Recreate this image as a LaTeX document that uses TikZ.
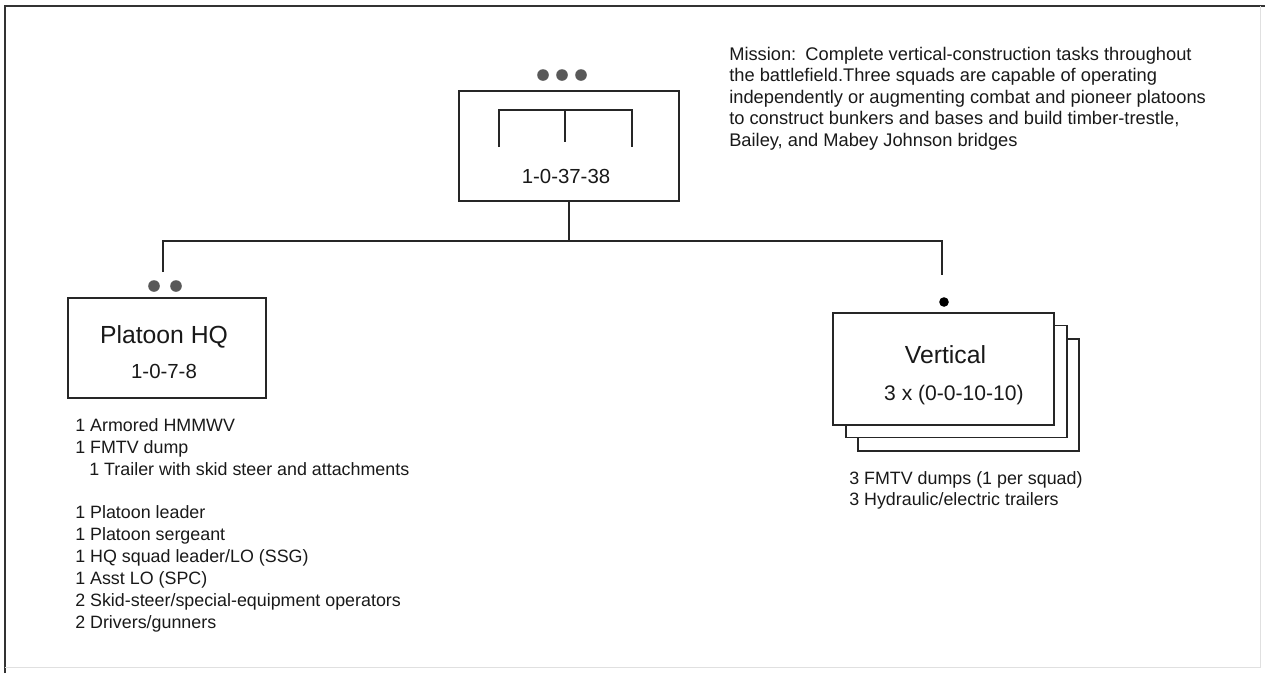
\documentclass[tikz,border=0pt]{standalone}
\usepackage{fontspec}
\setmainfont{Liberation Sans}
\usetikzlibrary{positioning}
\tikzstyle{unitbox} = [rectangle, draw=black!85, line width=1.1pt, fill=white, minimum width=5.525cm,
minimum height=2.8cm, inner sep=0pt]
\tikzstyle{title} = [align=center, inner sep=0pt, text=black!90, font=\fontsize{17.6}{20}\selectfont]
\tikzstyle{line} = [line width=1.1pt, black!85]
\tikzstyle{gdot} = [circle, fill=black!65, inner sep=0pt, minimum size=0.29cm]
\tikzstyle{bdot} = [circle, fill=black, inner sep=0pt, minimum size=0.24cm]
\tikzstyle{notes} = [anchor=base west, align=left, inner sep=0pt, text=black!90,
font=\fontsize{12.7}{15.6}\selectfont]

\begin{document}
\begin{tikzpicture}[x=0.025cm, y=-0.025cm]
        \useasboundingbox (0,0) rectangle (1265,673);
        % frame
        \draw[line width=1.4pt, black!80] (5,673) -- (5,6) -- (1265,6);
        \draw[black!12] (1260,6) -- (1260,667) -- (5,667);

        \node[unitbox, minimum width=5.5cm, minimum height=2.75cm] (company) at (569,146) {};
        \node[anchor=base, inner sep=0pt, text=black!90, font=\fontsize{14.5}{17}\selectfont] (companyno) at (566,183) {1-0-37-38};
        \draw[line] ([shift={(-70,1)}]company.center) -- ([shift={(-70,-36)}]company.center)
            -- ([shift={(63,-36)}]company.center) -- ([shift={(63,1)}]company.center);
        \draw[line] ([shift={(-4,-36)}]company.center) -- ([shift={(-4,-4)}]company.center);
        \node[gdot] (c1) at (543,75) {};
        \node[gdot] (c2) at (562,75) {};
        \node[gdot] (c3) at (581,75) {};

        \node[unitbox, minimum width=4.95cm, minimum height=2.5cm] (hq) at (167,348) {};
        \node[title] (hqtxt) at ([shift={(-3,4)}]hq.center)
            {Platoon HQ\\[5pt]{\fontsize{14.5}{17}\selectfont 1-0-7-8}};
        \node[gdot] (h1) at (154,286) {};
        \node[gdot] (h2) at (176,286) {};

        \node[unitbox] (sq3) at (968.5,395) {};
        \node[unitbox] (sq2) at (956.5,381.5) {};
        \node[unitbox] (squad) at (943.5,369) {};
        \node[title] (squadtxt) at ([shift={(2,6)}]squad.center)
            {Vertical\\[6pt]\hspace*{12pt}{\fontsize{15}{17}\selectfont 3 x (0-0-10-10)}};
        \node[bdot] (s1) at (944,302) {};

        \coordinate (busL) at (163,241);
        \coordinate (busR) at (942,241);
        \coordinate (dropL) at (163,272);
        \coordinate (dropR) at (942,275);
        \draw[line] (company.south) -- (company.south |- busL);
        \draw[line] (dropL) -- (busL) -- (busR) -- (dropR);

        \node[notes] (hqlist) at (75,628) {1 Armored HMMWV\\1 FMTV dump\\\hspace*{10pt}1 Trailer with skid steer and attachments\\[15pt]
            1 Platoon leader\\1 Platoon sergeant\\1 HQ squad leader/LO (SSG)\\1 Asst LO (SPC)\\
            2 Skid-steer/special-equipment operators\\2 Drivers/gunners};
        \node[notes, font=\fontsize{12.7}{14.9}\selectfont] (sqlist) at (849,505) {3 FMTV dumps (1 per squad)\\3 Hydraulic/electric trailers};
        \node[notes, font=\fontsize{13}{15.2}\selectfont] (mission) at (729,146)
            {Mission:\hspace{0.5em}Complete vertical-construction tasks throughout\\
            the battlefield.Three squads are capable of operating\\
            independently or augmenting combat and pioneer platoons\\
            to construct bunkers and bases and build timber-trestle,\\
            Bailey, and Mabey Johnson bridges};

    \end{tikzpicture}
\end{document}
